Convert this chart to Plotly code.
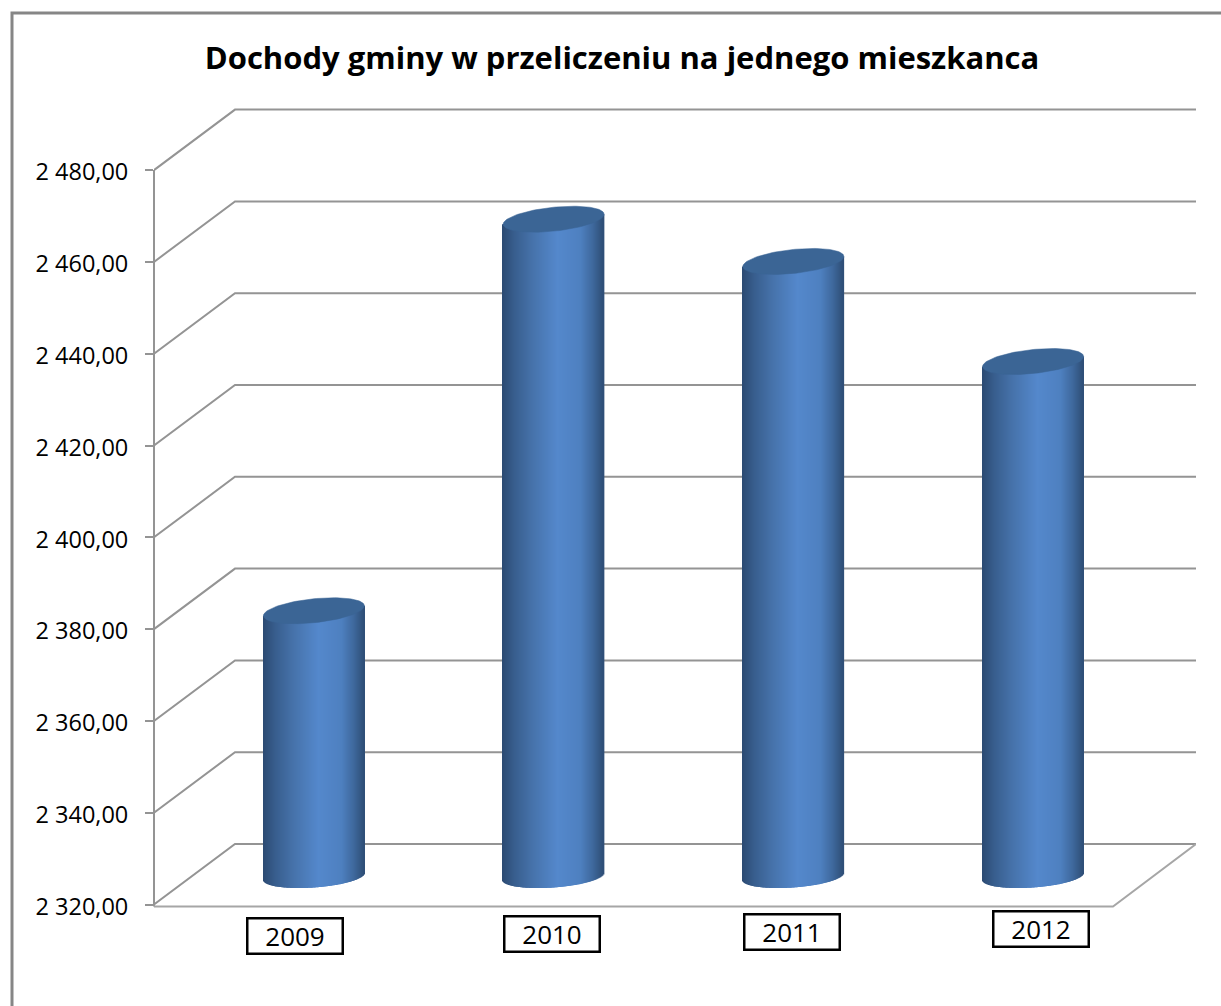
import math
import plotly.graph_objects as go

# ---- data ----
YEARS = ["2009", "2010", "2011", "2012"]
VALUES = [2377.9, 2463.2, 2454.0, 2432.2]
TICKS = [2320, 2340, 2360, 2380, 2400, 2420, 2440, 2460, 2480]
TITLE = "Dochody gminy w przeliczeniu na jednego mieszkanca"

# ---- geometry (pixels of the page) ----
W, H = 1221, 1006
L, R, T, B = 154, 1196, 108, 909
ZERO_PX = 904.5
PX_PER_CAT = 239.75
PX_PER_UNIT = 4.59
Y_MIN = 2320
Y_LOW = Y_MIN - (B - ZERO_PX) / PX_PER_UNIT
Y_MAX = Y_MIN + (ZERO_PX - T) / PX_PER_UNIT
X_MIN = -0.5
X_MAX = X_MIN + (R - L) / PX_PER_CAT
DEPTH_X = 81 / PX_PER_CAT
DEPTH_Y = 60.5 / PX_PER_UNIT
BAR_SHIFT = 40 / PX_PER_CAT
BAR_HALF = 50.5 / PX_PER_CAT
STRIPS = 101
MID_DEPTH = 28 / PX_PER_UNIT
LABEL_DX = [21, 38, 39, 48]
LABEL_CY = [935.5, 933.5, 931.5, 929]

STOPS = [(-1.0, (43, 74, 114)), (-0.75, (56, 94, 142)), (-0.4, (70, 114, 170)),
         (0.1, (84, 136, 204)), (0.55, (78, 128, 192)), (0.8, (62, 104, 156)),
         (1.0, (46, 78, 118))]
LID = "#3b6595"
GRID = "#949494"


def shade(u):
    for (u0, c0), (u1, c1) in zip(STOPS, STOPS[1:]):
        if u <= u1:
            t = (u - u0) / (u1 - u0)
            return "rgb(%d,%d,%d)" % tuple(round(a + (b - a) * t) for a, b in zip(c0, c1))
    return "rgb(%d,%d,%d)" % STOPS[-1][1]


def px_x(px):
    return (px - L) / (R - L)


def px_y(py):
    return (B - py) / (B - T)


fig = go.Figure()

for i, value in enumerate(VALUES):
    cx = i + BAR_SHIFT
    lid_y = value + MID_DEPTH
    us = [-1 + (2 * k + 1) / STRIPS for k in range(STRIPS)]
    bases = [Y_MIN + MID_DEPTH + (3.5 * u - 11 * math.sqrt(1 - u * u)) / PX_PER_UNIT for u in us]
    tops = [lid_y + 5 * u / PX_PER_UNIT for u in us]
    fig.add_trace(go.Bar(
        x=[cx + BAR_HALF * u for u in us],
        y=[t - b for t, b in zip(tops, bases)],
        base=bases,
        width=1.5 * 2 * BAR_HALF / STRIPS,
        marker=dict(color=[shade(u) for u in us], line=dict(width=0)),
        hoverinfo="skip", showlegend=False,
    ))
    angles = [2 * math.pi * k / 120 for k in range(121)]
    fig.add_trace(go.Scatter(
        x=[cx + BAR_HALF * math.cos(a) for a in angles],
        y=[lid_y + (5 * math.cos(a) + 12 * math.sin(a)) / PX_PER_UNIT for a in angles],
        mode="lines", fill="toself", fillcolor=LID,
        line=dict(color=LID, width=0.5),
        hoverinfo="skip", showlegend=False,
    ))

shapes = []
for tick in TICKS:
    back = tick + DEPTH_Y
    shapes.append(dict(
        type="path", xref="x", yref="y", layer="below",
        path=f"M {X_MIN} {tick} L {X_MIN + DEPTH_X} {back} L {X_MAX} {back}",
        line=dict(color=GRID, width=2),
    ))
# value axis line, stopping at the last tick
shapes.append(dict(
    type="line", xref="paper", yref="y", layer="below",
    x0=px_x(154), x1=px_x(154), y0=Y_MIN - 2 / PX_PER_UNIT, y1=TICKS[-1],
    line=dict(color=GRID, width=2),
))
# floor outline
floor_y = Y_MIN - 2 / PX_PER_UNIT
shapes.append(dict(
    type="path", xref="x", yref="y", layer="below",
    path=f"M {X_MIN} {floor_y} L {X_MIN + 4} {floor_y} L {X_MAX} {Y_MIN + DEPTH_Y}",
    line=dict(color="#a6a6a6", width=2),
))
# outer chart frame
shapes.append(dict(
    type="path", xref="paper", yref="paper", layer="below",
    path=f"M {px_x(12)} {px_y(H + 5)} L {px_x(12)} {px_y(13)} L {px_x(W + 5)} {px_y(13)}",
    line=dict(color="#868686", width=3),
))

annotations = [
    dict(x=i, xref="x", y=0, yref="paper", yanchor="middle", xanchor="center",
         xshift=LABEL_DX[i], yshift=-(LABEL_CY[i] - B),
         text=year, showarrow=False, width=93, height=33,
         font=dict(family="Open Sans", size=26, color="#000000"),
         bgcolor="#ffffff", bordercolor="#000000", borderwidth=2.5, borderpad=0)
    for i, year in enumerate(YEARS)
]

fig.update_layout(
    width=W, height=H,
    margin=dict(l=L, r=W - R, t=T, b=H - B, autoexpand=False),
    paper_bgcolor="#ffffff", plot_bgcolor="#ffffff",
    barmode="overlay",
    separators=", ",
    showlegend=False,
    shapes=shapes,
    annotations=annotations,
    title=dict(text=f"<b>{TITLE}</b>", x=622 / W, xanchor="center", xref="container",
               y=1 - 58 / H, yanchor="middle", yref="container",
               font=dict(family="Open Sans", size=31, color="#000000")),
    xaxis=dict(range=[X_MIN, X_MAX], visible=False, fixedrange=True),
    yaxis=dict(range=[Y_LOW, Y_MAX], tickmode="array", tickvals=TICKS, tickformat=",.2f",
               showgrid=False, zeroline=False, showline=False,
               ticks="outside", ticklen=8, tickwidth=2, tickcolor=GRID, ticklabelstandoff=12,
               ticklabelshift=2,
               tickfont=dict(family="Open Sans", size=23.5, color="#000000"), fixedrange=True),
)

fig.write_html("out.html", config=dict(displayModeBar=False),
               post_script="document.body.style.margin='0';document.documentElement.style.overflow='hidden';")
